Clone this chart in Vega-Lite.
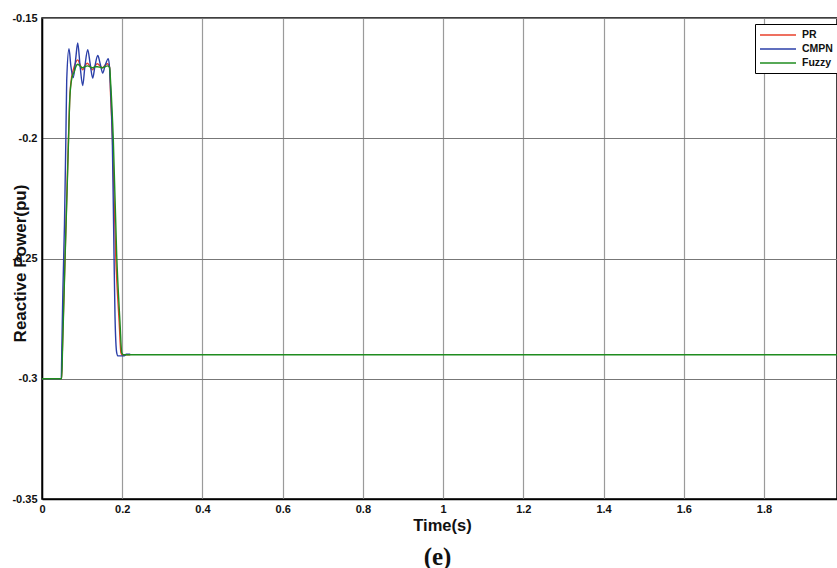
{
  "$schema": "https://vega.github.io/schema/vega-lite/v6.json",
  "width": 795,
  "height": 481,
  "autosize": {"type": "none"},
  "padding": {"left": 42, "top": 18, "right": 0, "bottom": 69},
  "background": "white",
  "title": {
    "text": "(e)",
    "orient": "bottom",
    "anchor": "middle",
    "font": "Liberation Serif",
    "fontSize": 25,
    "fontWeight": "bold",
    "color": "#111",
    "offset": 11,
    "dx": -2
  },
  "config": {
    "font": "Liberation Sans",
    "view": {"stroke": "black", "strokeWidth": 1.5}
  },
  "data": {
    "values": [
      {"t": 0, "q": -0.3, "ctrl": "PR"},
      {"t": 0.049, "q": -0.3, "ctrl": "PR"},
      {"t": 0.0505, "q": -0.29, "ctrl": "PR"},
      {"t": 0.053, "q": -0.275, "ctrl": "PR"},
      {"t": 0.057, "q": -0.252, "ctrl": "PR"},
      {"t": 0.062, "q": -0.223, "ctrl": "PR"},
      {"t": 0.0655, "q": -0.203, "ctrl": "PR"},
      {"t": 0.069, "q": -0.184, "ctrl": "PR"},
      {"t": 0.074, "q": -0.1745, "ctrl": "PR"},
      {"t": 0.079, "q": -0.171, "ctrl": "PR"},
      {"t": 0.084, "q": -0.1685, "ctrl": "PR"},
      {"t": 0.089, "q": -0.1674, "ctrl": "PR"},
      {"t": 0.095, "q": -0.1695, "ctrl": "PR"},
      {"t": 0.1015, "q": -0.1715, "ctrl": "PR"},
      {"t": 0.107, "q": -0.1698, "ctrl": "PR"},
      {"t": 0.113, "q": -0.1688, "ctrl": "PR"},
      {"t": 0.119, "q": -0.17, "ctrl": "PR"},
      {"t": 0.126, "q": -0.1715, "ctrl": "PR"},
      {"t": 0.132, "q": -0.17, "ctrl": "PR"},
      {"t": 0.138, "q": -0.169, "ctrl": "PR"},
      {"t": 0.145, "q": -0.17, "ctrl": "PR"},
      {"t": 0.151, "q": -0.1707, "ctrl": "PR"},
      {"t": 0.157, "q": -0.1697, "ctrl": "PR"},
      {"t": 0.163, "q": -0.169, "ctrl": "PR"},
      {"t": 0.1685, "q": -0.1705, "ctrl": "PR"},
      {"t": 0.171, "q": -0.182, "ctrl": "PR"},
      {"t": 0.1758, "q": -0.2006, "ctrl": "PR"},
      {"t": 0.1838, "q": -0.249, "ctrl": "PR"},
      {"t": 0.1925, "q": -0.2767, "ctrl": "PR"},
      {"t": 0.1968, "q": -0.2892, "ctrl": "PR"},
      {"t": 0.2007, "q": -0.2903, "ctrl": "PR"},
      {"t": 0.21, "q": -0.29, "ctrl": "PR"},
      {"t": 0.22, "q": -0.29, "ctrl": "PR"},

      {"t": 0, "q": -0.3, "ctrl": "CMPN"},
      {"t": 0.048, "q": -0.3, "ctrl": "CMPN"},
      {"t": 0.0495, "q": -0.287, "ctrl": "CMPN"},
      {"t": 0.052, "q": -0.264, "ctrl": "CMPN"},
      {"t": 0.056, "q": -0.236, "ctrl": "CMPN"},
      {"t": 0.0595, "q": -0.2, "ctrl": "CMPN"},
      {"t": 0.0616, "q": -0.176, "ctrl": "CMPN"},
      {"t": 0.0673, "q": -0.1628, "ctrl": "CMPN"},
      {"t": 0.072, "q": -0.17, "ctrl": "CMPN"},
      {"t": 0.078, "q": -0.1748, "ctrl": "CMPN"},
      {"t": 0.084, "q": -0.167, "ctrl": "CMPN"},
      {"t": 0.089, "q": -0.1604, "ctrl": "CMPN"},
      {"t": 0.095, "q": -0.17, "ctrl": "CMPN"},
      {"t": 0.1015, "q": -0.1781, "ctrl": "CMPN"},
      {"t": 0.107, "q": -0.17, "ctrl": "CMPN"},
      {"t": 0.114, "q": -0.1632, "ctrl": "CMPN"},
      {"t": 0.12, "q": -0.169, "ctrl": "CMPN"},
      {"t": 0.1264, "q": -0.175, "ctrl": "CMPN"},
      {"t": 0.132, "q": -0.17, "ctrl": "CMPN"},
      {"t": 0.139, "q": -0.1656, "ctrl": "CMPN"},
      {"t": 0.145, "q": -0.169, "ctrl": "CMPN"},
      {"t": 0.1514, "q": -0.1729, "ctrl": "CMPN"},
      {"t": 0.157, "q": -0.17, "ctrl": "CMPN"},
      {"t": 0.1653, "q": -0.1669, "ctrl": "CMPN"},
      {"t": 0.1685, "q": -0.171, "ctrl": "CMPN"},
      {"t": 0.1705, "q": -0.178, "ctrl": "CMPN"},
      {"t": 0.1753, "q": -0.2006, "ctrl": "CMPN"},
      {"t": 0.1796, "q": -0.249, "ctrl": "CMPN"},
      {"t": 0.182, "q": -0.274, "ctrl": "CMPN"},
      {"t": 0.1863, "q": -0.2892, "ctrl": "CMPN"},
      {"t": 0.1895, "q": -0.2905, "ctrl": "CMPN"},
      {"t": 0.205, "q": -0.2905, "ctrl": "CMPN"},
      {"t": 0.21, "q": -0.2898, "ctrl": "CMPN"},
      {"t": 0.22, "q": -0.2898, "ctrl": "CMPN"},

      {"t": 0, "q": -0.3, "ctrl": "Fuzzy"},
      {"t": 0.049, "q": -0.3, "ctrl": "Fuzzy"},
      {"t": 0.051, "q": -0.289, "ctrl": "Fuzzy"},
      {"t": 0.053, "q": -0.277, "ctrl": "Fuzzy"},
      {"t": 0.0575, "q": -0.25, "ctrl": "Fuzzy"},
      {"t": 0.0625, "q": -0.222, "ctrl": "Fuzzy"},
      {"t": 0.066, "q": -0.2015, "ctrl": "Fuzzy"},
      {"t": 0.0695, "q": -0.183, "ctrl": "Fuzzy"},
      {"t": 0.0745, "q": -0.175, "ctrl": "Fuzzy"},
      {"t": 0.08, "q": -0.1725, "ctrl": "Fuzzy"},
      {"t": 0.085, "q": -0.17, "ctrl": "Fuzzy"},
      {"t": 0.089, "q": -0.1692, "ctrl": "Fuzzy"},
      {"t": 0.095, "q": -0.17, "ctrl": "Fuzzy"},
      {"t": 0.101, "q": -0.1707, "ctrl": "Fuzzy"},
      {"t": 0.107, "q": -0.1703, "ctrl": "Fuzzy"},
      {"t": 0.113, "q": -0.1699, "ctrl": "Fuzzy"},
      {"t": 0.119, "q": -0.1702, "ctrl": "Fuzzy"},
      {"t": 0.126, "q": -0.1707, "ctrl": "Fuzzy"},
      {"t": 0.132, "q": -0.1703, "ctrl": "Fuzzy"},
      {"t": 0.138, "q": -0.1703, "ctrl": "Fuzzy"},
      {"t": 0.145, "q": -0.1705, "ctrl": "Fuzzy"},
      {"t": 0.151, "q": -0.1707, "ctrl": "Fuzzy"},
      {"t": 0.157, "q": -0.1703, "ctrl": "Fuzzy"},
      {"t": 0.163, "q": -0.1699, "ctrl": "Fuzzy"},
      {"t": 0.1685, "q": -0.1705, "ctrl": "Fuzzy"},
      {"t": 0.1715, "q": -0.178, "ctrl": "Fuzzy"},
      {"t": 0.1778, "q": -0.2006, "ctrl": "Fuzzy"},
      {"t": 0.1863, "q": -0.249, "ctrl": "Fuzzy"},
      {"t": 0.1945, "q": -0.2767, "ctrl": "Fuzzy"},
      {"t": 0.1988, "q": -0.2892, "ctrl": "Fuzzy"},
      {"t": 0.2027, "q": -0.29, "ctrl": "Fuzzy"},
      {"t": 1.982, "q": -0.29, "ctrl": "Fuzzy"}
    ]
  },
  "mark": {"type": "line", "strokeWidth": 1.4, "clip": true, "interpolate": "monotone"},
  "encoding": {
    "x": {
      "field": "t",
      "type": "quantitative",
      "scale": {"domain": [0, 1.982], "nice": false, "zero": false},
      "axis": {
        "title": "Time(s)",
        "values": [0, 0.2, 0.4, 0.6, 0.8, 1, 1.2, 1.4, 1.6, 1.8],
        "labelExpr": "format(datum.value, '~g')",
        "ticks": false,
        "labelPadding": 4,
        "labelFont": "Liberation Sans",
        "labelFontSize": 11,
        "labelFontWeight": "bold",
        "labelColor": "#111",
        "labelFlush": false,
        "domainColor": "black",
        "domainWidth": 1.5,
        "gridColor": "#9a9a9a",
        "gridWidth": 1.2,
        "titleFont": "Liberation Sans",
        "titleFontSize": 16.5,
        "titleFontWeight": "bold",
        "titleColor": "#111",
        "titleBaseline": "middle",
        "titleX": 400,
        "titleY": 26
      }
    },
    "y": {
      "field": "q",
      "type": "quantitative",
      "scale": {"domain": [-0.35, -0.15], "nice": false, "zero": false},
      "axis": {
        "title": "Reactive Power(pu)",
        "values": [-0.35, -0.3, -0.25, -0.2, -0.15],
        "labelExpr": "replace(format(datum.value, '~g'), '\u2212', '-')",
        "ticks": false,
        "labelPadding": 5,
        "labelFont": "Liberation Sans",
        "labelFontSize": 11,
        "labelFontWeight": "bold",
        "labelColor": "#111",
        "labelFlush": false,
        "domainColor": "black",
        "domainWidth": 1.5,
        "gridColor": "#777777",
        "gridWidth": 1,
        "titleFont": "Liberation Sans",
        "titleFontSize": 17,
        "titleFontWeight": "bold",
        "titleColor": "#111",
        "titleAngle": -90,
        "titleBaseline": "middle",
        "titleX": -22,
        "titleY": 245
      }
    },
    "color": {
      "field": "ctrl",
      "type": "nominal",
      "scale": {
        "domain": ["PR", "CMPN", "Fuzzy"],
        "range": ["#e8412b", "#2b3fa8", "#1f8c1f"]
      },
      "legend": {
        "title": null,
        "orient": "none",
        "legendX": 713,
        "legendY": 6,
        "symbolType": "M-1,0H5",
        "symbolSize": 144,
        "symbolStrokeWidth": 1.4,
        "labelFont": "Liberation Sans",
        "labelFontSize": 10.5,
        "labelFontWeight": "bold",
        "labelColor": "#111",
        "labelOffset": 29,
        "rowPadding": 1,
        "padding": 4,
        "strokeColor": "black",
        "fillColor": "white",
        "cornerRadius": 0
      }
    }
  }
}
